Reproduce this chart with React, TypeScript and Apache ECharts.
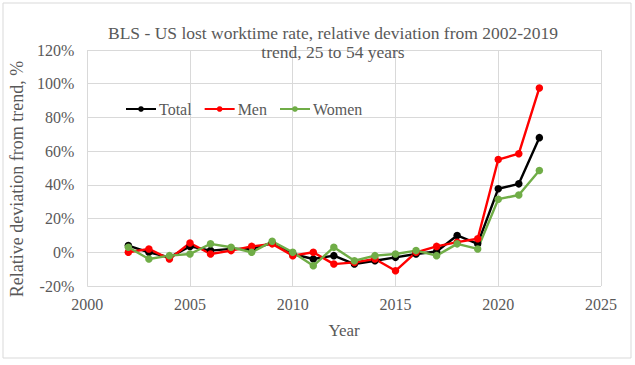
import React, { useEffect, useRef } from "react";
import * as echarts from "echarts";

const years = [2002, 2003, 2004, 2005, 2006, 2007, 2008, 2009, 2010, 2011, 2012, 2013, 2014, 2015, 2016, 2017, 2018, 2019, 2020, 2021, 2022];
const total = [4, 0, -3, 3.5, 1, 2, 2, 5.5, -1, -4, -2, -7, -5, -3, -1, 0.5, 10, 5, 37.7, 40.6, 68];
const men = [0, 2, -4, 5.5, -1, 1, 3.5, 5, -2, 0, -7, -6, -4, -11, 0, 3.5, 6, 8, 55, 58.5, 97.5];
const women = [3, -4, -2, -1, 5, 3, 0, 6.5, 0, -8, 3, -5, -2, -1, 1, -2, 5, 2, 31.5, 34, 48.5];

const FONT = "'Liberation Serif', 'DejaVu Serif', serif";
const GREY = "#595959";

function pairs(vals: number[]) {
  return years.map((y, i) => [y, vals[i]]);
}

export default function App() {
  const ref = useRef<HTMLDivElement>(null);
  useEffect(() => {
    const chart = echarts.init(ref.current!, null, { renderer: "svg" });
    const mk = (name: string, vals: number[], color: string) => ({
      name,
      type: "line",
      data: pairs(vals),
      symbol: "circle",
      symbolSize: 7.5,
      lineStyle: { color, width: 2.4 },
      itemStyle: { color },
    });
    chart.setOption({
      animation: false,
      textStyle: { fontFamily: FONT },
      title: {
        text: "BLS - US lost worktime rate, relative deviation from 2002-2019\ntrend, 25 to 54 years",
        left: 328,
        textAlign: "center",
        top: 18,
        textStyle: { fontFamily: FONT, fontSize: 17.5, fontWeight: "normal", color: GREY, lineHeight: 19, align: "center" },
      },
      legend: {
        left: 120,
        top: 96,
        itemWidth: 30,
        itemHeight: 7,
        itemGap: 12,
        textStyle: { fontFamily: FONT, fontSize: 16, color: GREY, padding: [0, 0, 0, -2] },
        data: ["Total", "Men", "Women"],
      },
      graphic: [
        {
          type: "rect",
          shape: { x: 3, y: 3, width: 628, height: 355 },
          style: { fill: "none", stroke: "#d9d9d9", lineWidth: 1 },
          silent: true,
        },
      ],
      grid: { left: 85, right: 34, top: 50, bottom: 79 },
      xAxis: {
        type: "value",
        min: 2000,
        max: 2025,
        interval: 5,
        name: "Year",
        nameLocation: "middle",
        nameGap: 36,
        nameTextStyle: { fontFamily: FONT, fontSize: 17, color: GREY },
        axisLine: { show: true, lineStyle: { color: "#d9d9d9" } },
        axisTick: { show: false },
        axisLabel: { fontFamily: FONT, fontSize: 16, color: GREY, margin: 10, formatter: (v: number) => String(v) },
        splitLine: { show: true, lineStyle: { color: "#d9d9d9" } },
      },
      yAxis: {
        type: "value",
        min: -20,
        max: 120,
        interval: 20,
        name: "Relative deviation from trend, %",
        nameLocation: "middle",
        nameGap: 60,
        nameTextStyle: { fontFamily: FONT, fontSize: 18, color: GREY, padding: [0, 22, 0, 0] },
        axisLine: { show: false },
        axisTick: { show: false },
        axisLabel: { fontFamily: FONT, fontSize: 16, color: GREY, formatter: "{value}%", margin: 13 },
        splitLine: { show: true, lineStyle: { color: "#d9d9d9" } },
      },
      series: [mk("Total", total, "#000000"), mk("Men", men, "#ff0000"), mk("Women", women, "#70ad47")],
    });
    return () => chart.dispose();
  }, []);
  return (
    <div style={{ position: "fixed", left: 0, top: 0, width: 635, height: 365, background: "#fff" }}>
      <div ref={ref} style={{ width: 635, height: 365 }} />
    </div>
  );
}
